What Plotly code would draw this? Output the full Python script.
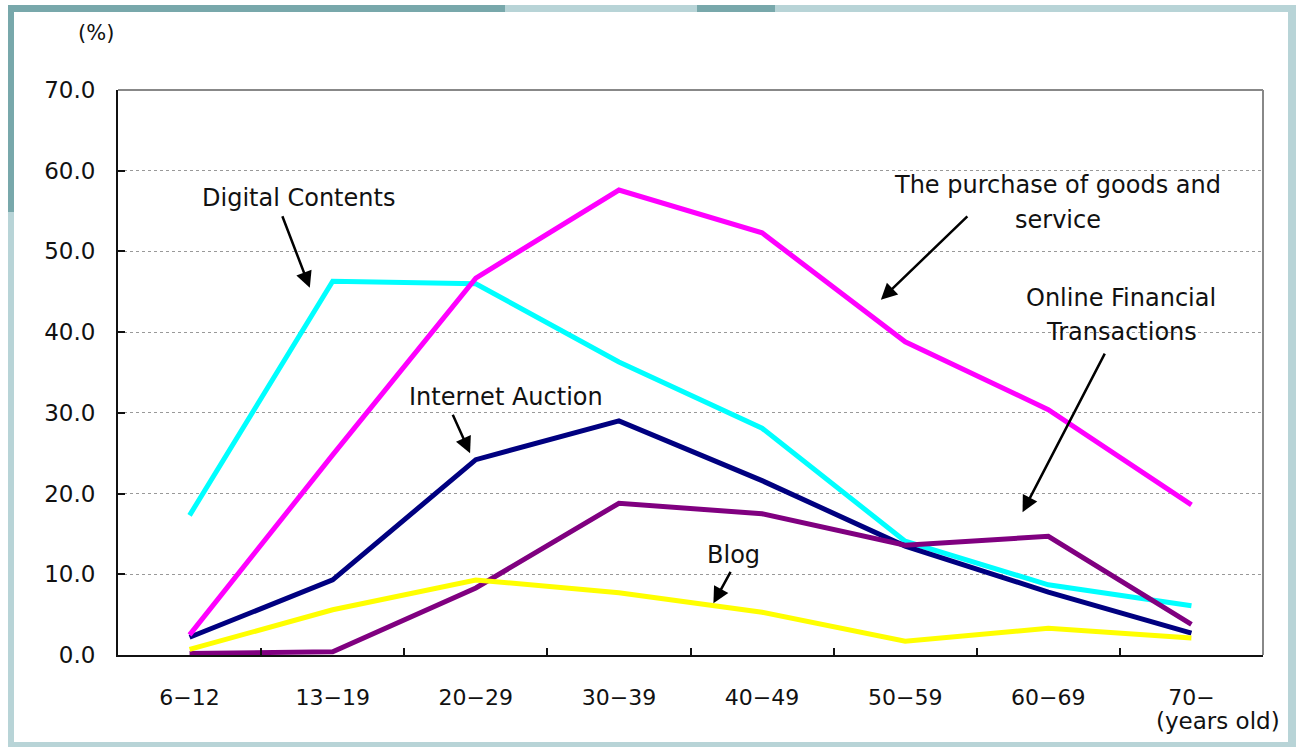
import plotly.graph_objects as go

# Age groups on the x axis
ages = ["6−12", "13−19", "20−29", "30−39", "40−49", "50−59", "60−69", "70−"]

# Usage rate (%) by type of e-commerce
digital_contents = [17.3, 46.3, 46.0, 36.3, 28.1, 14.1, 8.7, 6.1]
internet_auction = [2.2, 9.3, 24.2, 29.0, 21.6, 13.5, 7.8, 2.7]
online_financial = [0.2, 0.4, 8.3, 18.8, 17.5, 13.6, 14.7, 3.8]
blog = [0.7, 5.6, 9.3, 7.7, 5.3, 1.7, 3.3, 2.1]
purchase_goods = [2.5, 24.8, 46.7, 57.6, 52.3, 38.8, 30.4, 18.6]

y_ticks = [0, 10, 20, 30, 40, 50, 60, 70]

W, H = 1296, 747
L, R, T, B = 118, 33, 90, 92
PW, PH = W - L - R, H - T - B
FONT = "DejaVu Sans"


def px(x):
    return (x - L) / PW


def py(y):
    return (H - B - y) / PH


fig = go.Figure()

series = [
    (digital_contents, "#00FFFF", "Digital Contents"),
    (internet_auction, "#000080", "Internet Auction"),
    (online_financial, "#800080", "Online Financial Transactions"),
    (blog, "#FFFF00", "Blog"),
    (purchase_goods, "#FF00FF", "The purchase of goods and service"),
]
for vals, col, name in series:
    fig.add_trace(go.Scatter(x=ages, y=vals, mode="lines", name=name,
                             line=dict(color=col, width=5), showlegend=False))

# Callout labels (one annotation per text line) and their arrows
labels = [
    ("Digital Contents", 0.76, 56.6),
    ("The purchase of goods and", 6.065, 58.2),
    ("service", 6.065, 53.9),
    ("Online Financial", 6.51, 44.2),
    ("Transactions", 6.51, 40.0),
    ("Internet Auction", 2.21, 32.0),
    ("Blog", 3.80, 12.4),
]
for txt, xi, yv in labels:
    fig.add_annotation(x=xi, y=yv, xref="x", yref="y", text=txt, showarrow=False,
                       xanchor="center", yanchor="middle",
                       font=dict(family=FONT, size=24, color="#111"),
                       align="center")

arrows = [
    (0.84, 45.5, -28, -73),
    (4.83, 44.0, 88, -85),
    (5.82, 17.7, 83, -160),
    (1.96, 25.0, -18, -40),
    (3.66, 6.4, 18, -33),
]
for xi, yv, ax, ay in arrows:
    fig.add_annotation(x=xi, y=yv, xref="x", yref="y", text="", showarrow=True,
                       ax=ax, ay=ay, arrowhead=2, arrowsize=1.3, arrowwidth=2.5,
                       arrowcolor="#000")

# Unit labels
fig.add_annotation(x=px(96), y=py(33), xref="paper", yref="paper", text="(%)",
                   xanchor="center", yanchor="middle", showarrow=False,
                   font=dict(family=FONT, size=21, color="#111"))
fig.add_annotation(x=px(1218), y=py(721), xref="paper", yref="paper",
                   text="(years old)", xanchor="center", yanchor="middle",
                   showarrow=False,
                   font=dict(family=FONT, size=23, color="#111"))

shapes = []
# Gray top and right border of the plot area
shapes.append(dict(type="line", xref="paper", yref="paper", x0=0, x1=1, y0=1, y1=1,
                   line=dict(color="#888", width=2)))
shapes.append(dict(type="line", xref="paper", yref="paper", x0=1, x1=1, y0=0, y1=1,
                   line=dict(color="#888", width=2)))

# Decorative teal frame around the figure
LIGHT, DARK = "#b8d4d7", "#78a8ab"


def rect(x0, y0, x1, y1, col):
    shapes.append(dict(type="rect", xref="paper", yref="paper",
                       x0=px(x0), x1=px(x1), y0=py(y1), y1=py(y0),
                       fillcolor=col, line=dict(width=0), layer="above"))


rect(8, 5, 1296, 12, LIGHT)
rect(8, 5, 505, 12, DARK)
rect(697, 5, 775, 12, DARK)
rect(8, 5, 14, 212, DARK)
rect(8, 212, 14, 747, LIGHT)
rect(1288, 5, 1296, 747, LIGHT)
rect(8, 742, 1296, 747, LIGHT)

fig.update_layout(
    width=W, height=H,
    margin=dict(l=L, r=R, t=T, b=B),
    paper_bgcolor="white", plot_bgcolor="white",
    shapes=shapes,
    font=dict(family=FONT, size=21, color="#111"),
    xaxis=dict(
        type="category", range=[-0.5, 7.5], tickson="boundaries",
        ticks="inside", ticklen=7, tickwidth=2, tickcolor="#111",
        showline=True, linecolor="#111", linewidth=2, showgrid=False,
        tickfont=dict(family=FONT, size=22, color="#111"),
        ticklabelstandoff=22,
    ),
    yaxis=dict(
        range=[0, 70], tickvals=y_ticks, tickformat=".1f",
        ticks="inside", ticklen=7, tickwidth=2, tickcolor="#111",
        showline=True, linecolor="#111", linewidth=2,
        showgrid=True, gridcolor="#999", gridwidth=1, griddash="dot",
        zeroline=False,
        tickfont=dict(family=FONT, size=23, color="#111"),
        ticklabelstandoff=16,
    ),
)

fig.write_html("out.html")
